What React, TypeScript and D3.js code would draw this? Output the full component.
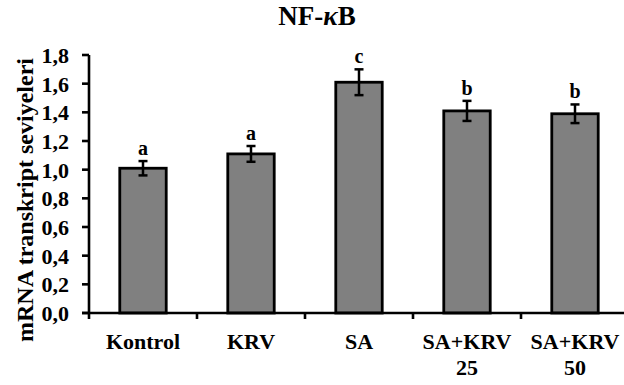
import * as d3 from "d3";

const CATEGORIES = ["Kontrol", "KRV", "SA", "SA+KRV 25", "SA+KRV 50"];
const VALUES = [1.01, 1.11, 1.61, 1.41, 1.39];
const ERRORS = [0.05, 0.055, 0.09, 0.07, 0.065];
const LETTERS = ["a", "a", "c", "b", "b"];
const Y_TICKS = [0, 0.2, 0.4, 0.6, 0.8, 1.0, 1.2, 1.4, 1.6, 1.8];

const W = 624;
const H = 385;
const AXIS_X = 89;
const AXIS_Y = 313;
const FONT = "'Liberation Serif','Times New Roman',serif";

export default function App() {
  const x = d3.scaleBand<string>().domain(CATEGORIES).range([AXIS_X, AXIS_X + 540]).padding(0);
  const y = d3.scaleLinear().domain([0, 1.8]).range([AXIS_Y, 55]);
  const step = x.step();
  const barW = step * 0.43;
  const fmt = (v: number) => v.toFixed(1).replace(".", ",");

  return (
    <div style={{ position: "fixed", left: 0, top: 0 }}>
      <svg width={W} height={H} style={{ display: "block", background: "#fff" }}>
        {/* title */}
        <text x={317} y={25} textAnchor="middle" fontFamily={FONT} fontWeight="bold" fontSize={27} fill="#000">
          NF-<tspan fontStyle="italic">κ</tspan>B
        </text>

        {/* y axis label */}
        <text
          transform={`translate(33,200) rotate(-90)`}
          textAnchor="middle"
          fontFamily={FONT}
          fontWeight="bold"
          fontSize={23}
          textLength={284}
          lengthAdjust="spacingAndGlyphs"
          fill="#000"
        >
          mRNA transkript seviyeleri
        </text>

        {/* bars */}
        {CATEGORIES.map((c, i) => {
          const cx = (x(c) ?? 0) + step / 2;
          return (
            <rect key={c}
              x={cx - barW / 2} y={y(VALUES[i])}
              width={barW} height={AXIS_Y - y(VALUES[i])}
              fill="#808080" stroke="#000" strokeWidth={2.8}
            />
          );
        })}

        {/* error bars */}
        {CATEGORIES.map((c, i) => {
          const cx = (x(c) ?? 0) + step / 2;
          const top = y(VALUES[i] + ERRORS[i]);
          const bot = y(VALUES[i] - ERRORS[i]);
          return (
            <g key={`e${c}`} stroke="#000" strokeWidth={2.5}>
              <line x1={cx} x2={cx} y1={top} y2={bot} />
              <line x1={cx - 4.5} x2={cx + 4.5} y1={top} y2={top} />
              <line x1={cx - 4.5} x2={cx + 4.5} y1={bot} y2={bot} />
            </g>
          );
        })}

        {/* significance letters */}
        {CATEGORIES.map((c, i) => {
          const cx = (x(c) ?? 0) + step / 2;
          return (
            <text key={`l${c}`} x={cx} y={y(VALUES[i] + ERRORS[i]) - 6}
              textAnchor="middle" fontFamily={FONT} fontWeight="bold" fontSize={20} fill="#000">
              {LETTERS[i]}
            </text>
          );
        })}

        {/* y axis */}
        <line x1={AXIS_X} x2={AXIS_X} y1={y(1.8)} y2={AXIS_Y} stroke="#000" strokeWidth={2.6} />
        {Y_TICKS.map((t) => (
          <g key={t}>
            <line x1={AXIS_X - 7} x2={AXIS_X} y1={y(t)} y2={y(t)} stroke="#000" strokeWidth={2.6} />
            <text x={69} y={y(t)} dy="0.36em" textAnchor="end"
              fontFamily={FONT} fontWeight="bold" fontSize={22} fill="#000">
              {fmt(t)}
            </text>
          </g>
        ))}

        {/* x axis */}
        <line x1={AXIS_X - 7} x2={W} y1={AXIS_Y} y2={AXIS_Y} stroke="#000" strokeWidth={2.6} />
        {CATEGORIES.map((c) => {
          const bx = x(c) ?? 0;
          return <line key={`t${c}`} x1={bx} x2={bx} y1={AXIS_Y} y2={AXIS_Y + 6} stroke="#000" strokeWidth={2.6} />;
        })}
        {CATEGORIES.map((c) => {
          const cx = (x(c) ?? 0) + step / 2;
          const lines = c.split(" ");
          return (
            <text key={`x${c}`} textAnchor="middle" fontFamily={FONT} fontWeight="bold" fontSize={22} fill="#000">
              {lines.map((ln, j) => (
                <tspan key={ln} x={cx} y={349 + j * 26}>{ln}</tspan>
              ))}
            </text>
          );
        })}
      </svg>
    </div>
  );
}
